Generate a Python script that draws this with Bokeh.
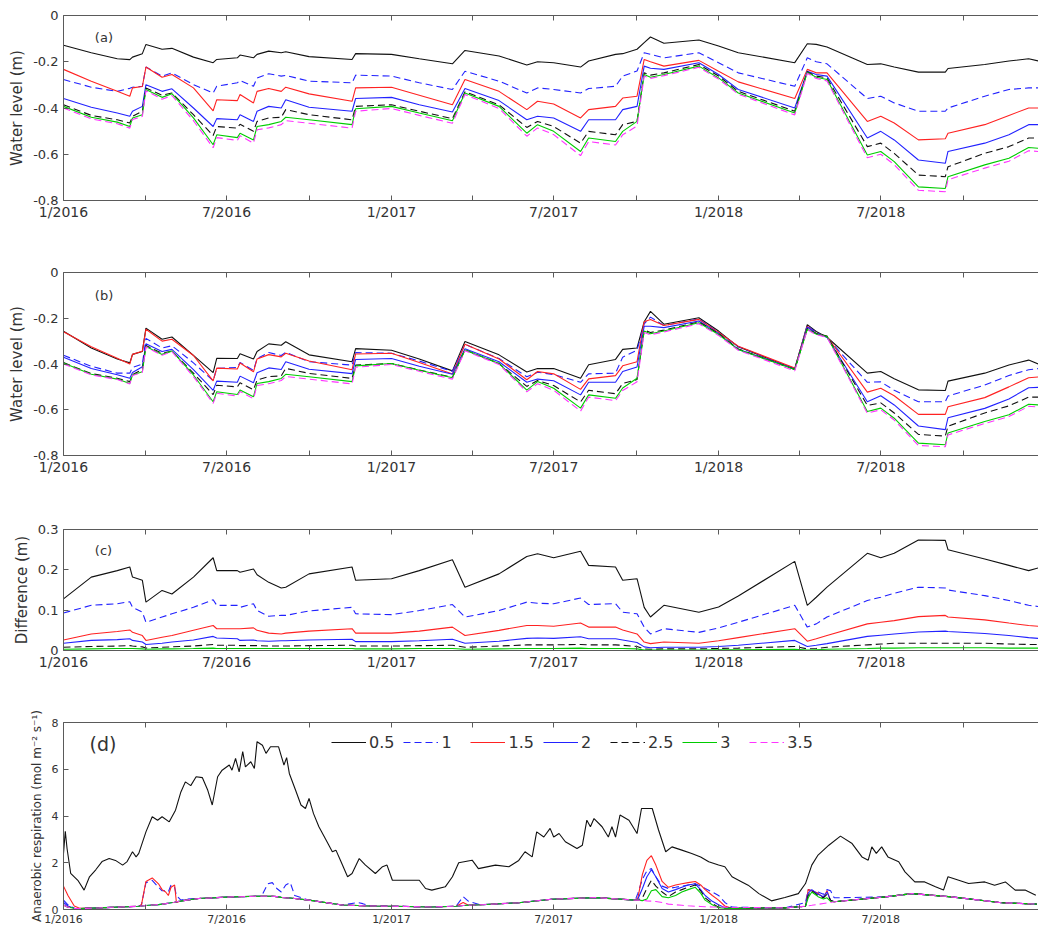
import pandas as pd
from bokeh.plotting import figure
from bokeh.layouts import column
from bokeh.models import (FixedTicker, CustomJSTickFormatter, DatetimeAxis, Range1d,
                          Label, Legend, LegendItem)
from bokeh.embed import file_html
from bokeh.resources import INLINE

# ---------------- data ----------------
SERIES = ["0.5", "1", "1.5", "2", "2.5", "3", "3.5"]
COLORS = ["#111111", "#2222ff", "#ff2222", "#2222ff", "#111111", "#00cc00", "#ff33ff"]
DASHES = ["solid", "7 4", "solid", "solid", "7 4", "solid", "7 4"]

MAJOR_TICKS = ["2016-01-01", "2016-07-01", "2017-01-01", "2017-07-01", "2018-01-01", "2018-07-01"]
MINOR_TICKS = ["2016-04-01", "2016-10-01", "2017-04-01", "2017-10-01", "2018-04-01", "2018-10-01"]

KNOT_DATES = ["2016-01-01", "2016-02-01", "2016-03-01", "2016-03-15", "2016-03-18", "2016-03-29",
              "2016-04-02", "2016-04-20", "2016-05-01", "2016-05-25", "2016-06-16", "2016-06-20",
              "2016-07-13", "2016-07-16", "2016-07-31", "2016-08-04", "2016-08-17", "2016-08-31",
              "2016-09-05", "2016-10-01", "2016-11-18", "2016-11-22", "2017-01-01", "2017-02-01",
              "2017-03-10", "2017-03-24", "2017-05-01", "2017-06-01", "2017-06-13", "2017-07-01",
              "2017-07-31", "2017-08-09", "2017-09-08", "2017-09-16", "2017-10-02", "2017-10-10",
              "2017-10-17", "2017-11-01", "2017-12-10", "2018-01-01", "2018-01-23", "2018-03-27",
              "2018-04-10", "2018-04-20", "2018-05-02", "2018-06-16", "2018-07-01", "2018-07-16",
              "2018-08-12", "2018-09-11", "2018-09-14", "2018-10-25", "2018-11-21", "2018-12-13",
              "2018-12-24"]

# (a) water level (m)
A_05 = [-0.129, -0.161, -0.187, -0.191, -0.180, -0.165, -0.125, -0.146, -0.142, -0.180,
        -0.204, -0.190, -0.183, -0.171, -0.183, -0.168, -0.154, -0.161, -0.157, -0.178,
        -0.190, -0.165, -0.168, -0.187, -0.209, -0.151, -0.175, -0.214, -0.200, -0.204,
        -0.223, -0.197, -0.168, -0.165, -0.146, -0.117, -0.093, -0.120, -0.106, -0.132,
        -0.161, -0.204, -0.122, -0.125, -0.136, -0.212, -0.209, -0.223, -0.245, -0.245,
        -0.229, -0.212, -0.197, -0.187, -0.197]
A_1 = [-0.277, -0.310, -0.328, -0.315, -0.310, -0.306, -0.223, -0.262, -0.248, -0.299,
       -0.335, -0.306, -0.291, -0.281, -0.306, -0.270, -0.252, -0.262, -0.259, -0.284,
       -0.291, -0.258, -0.262, -0.291, -0.320, -0.241, -0.284, -0.335, -0.313, -0.320,
       -0.335, -0.316, -0.306, -0.262, -0.240, -0.161, -0.168, -0.183, -0.161, -0.204,
       -0.248, -0.306, -0.183, -0.200, -0.209, -0.359, -0.349, -0.378, -0.414, -0.414,
       -0.400, -0.349, -0.320, -0.313, -0.313]
A_15 = [-0.233, -0.284, -0.328, -0.349, -0.313, -0.307, -0.223, -0.267, -0.255, -0.313,
        -0.412, -0.364, -0.368, -0.342, -0.378, -0.328, -0.316, -0.328, -0.310, -0.339,
        -0.371, -0.313, -0.310, -0.345, -0.386, -0.277, -0.328, -0.407, -0.371, -0.383,
        -0.443, -0.407, -0.393, -0.357, -0.349, -0.190, -0.200, -0.219, -0.194, -0.241,
        -0.287, -0.359, -0.233, -0.248, -0.248, -0.458, -0.436, -0.465, -0.538, -0.533,
        -0.509, -0.472, -0.432, -0.400, -0.400]
A_2 = [-0.359, -0.397, -0.422, -0.436, -0.414, -0.393, -0.299, -0.328, -0.317, -0.400,
       -0.480, -0.446, -0.451, -0.429, -0.458, -0.414, -0.393, -0.400, -0.364, -0.397,
       -0.414, -0.359, -0.354, -0.386, -0.417, -0.316, -0.368, -0.451, -0.436, -0.443,
       -0.501, -0.451, -0.451, -0.407, -0.393, -0.219, -0.228, -0.233, -0.204, -0.255,
       -0.320, -0.400, -0.241, -0.255, -0.262, -0.530, -0.501, -0.538, -0.625, -0.639,
       -0.588, -0.552, -0.516, -0.472, -0.472]
A_25 = [-0.386, -0.432, -0.451, -0.465, -0.436, -0.414, -0.313, -0.345, -0.335, -0.429,
        -0.519, -0.480, -0.487, -0.470, -0.501, -0.458, -0.443, -0.440, -0.407, -0.429,
        -0.451, -0.393, -0.386, -0.414, -0.446, -0.330, -0.386, -0.484, -0.458, -0.480,
        -0.552, -0.501, -0.516, -0.472, -0.458, -0.248, -0.258, -0.248, -0.212, -0.262,
        -0.328, -0.414, -0.243, -0.262, -0.270, -0.567, -0.552, -0.596, -0.690, -0.697,
        -0.654, -0.596, -0.567, -0.530, -0.530]
A_3 = [-0.393, -0.440, -0.461, -0.480, -0.443, -0.429, -0.320, -0.354, -0.338, -0.443,
       -0.559, -0.516, -0.528, -0.509, -0.538, -0.480, -0.472, -0.458, -0.440, -0.451,
       -0.472, -0.403, -0.393, -0.422, -0.455, -0.335, -0.393, -0.509, -0.472, -0.501,
       -0.588, -0.530, -0.545, -0.501, -0.458, -0.255, -0.267, -0.255, -0.219, -0.270,
       -0.335, -0.422, -0.246, -0.267, -0.277, -0.603, -0.588, -0.632, -0.741, -0.748,
       -0.697, -0.646, -0.617, -0.571, -0.574]
A_35 = [-0.400, -0.447, -0.468, -0.487, -0.450, -0.436, -0.325, -0.362, -0.346, -0.455,
        -0.572, -0.528, -0.540, -0.520, -0.552, -0.494, -0.486, -0.472, -0.455, -0.466,
        -0.487, -0.414, -0.402, -0.432, -0.466, -0.342, -0.402, -0.522, -0.486, -0.515,
        -0.606, -0.545, -0.560, -0.516, -0.478, -0.262, -0.272, -0.260, -0.224, -0.275,
        -0.340, -0.430, -0.250, -0.272, -0.283, -0.615, -0.600, -0.645, -0.756, -0.762,
        -0.710, -0.660, -0.630, -0.585, -0.588]

# (b) water level (m)
B_05 = [-0.257, -0.330, -0.378, -0.395, -0.358, -0.345, -0.243, -0.292, -0.282, -0.362,
        -0.438, -0.375, -0.376, -0.355, -0.378, -0.345, -0.312, -0.318, -0.303, -0.360,
        -0.390, -0.333, -0.340, -0.378, -0.430, -0.302, -0.360, -0.435, -0.420, -0.420,
        -0.462, -0.403, -0.380, -0.336, -0.330, -0.215, -0.170, -0.226, -0.198, -0.256,
        -0.325, -0.422, -0.228, -0.258, -0.283, -0.440, -0.433, -0.464, -0.513, -0.516,
        -0.475, -0.440, -0.404, -0.383, -0.400]
B_1 = [-0.362, -0.410, -0.440, -0.440, -0.415, -0.400, -0.288, -0.330, -0.320, -0.395,
       -0.473, -0.419, -0.415, -0.393, -0.428, -0.376, -0.350, -0.363, -0.349, -0.390,
       -0.405, -0.350, -0.353, -0.387, -0.432, -0.314, -0.376, -0.456, -0.436, -0.446,
       -0.480, -0.443, -0.440, -0.370, -0.340, -0.225, -0.195, -0.232, -0.203, -0.262,
       -0.324, -0.420, -0.232, -0.262, -0.285, -0.480, -0.478, -0.515, -0.565, -0.565,
       -0.540, -0.492, -0.450, -0.425, -0.420]
B_15 = [-0.259, -0.325, -0.375, -0.400, -0.358, -0.344, -0.248, -0.300, -0.292, -0.363,
        -0.474, -0.418, -0.422, -0.396, -0.434, -0.378, -0.359, -0.369, -0.353, -0.387,
        -0.425, -0.356, -0.353, -0.393, -0.444, -0.314, -0.378, -0.469, -0.433, -0.443,
        -0.511, -0.465, -0.451, -0.408, -0.390, -0.215, -0.205, -0.232, -0.205, -0.262,
        -0.322, -0.418, -0.235, -0.268, -0.280, -0.523, -0.506, -0.539, -0.620, -0.620,
        -0.587, -0.547, -0.500, -0.460, -0.457]
B_2 = [-0.370, -0.420, -0.447, -0.462, -0.437, -0.412, -0.312, -0.345, -0.336, -0.425,
       -0.515, -0.475, -0.480, -0.453, -0.482, -0.438, -0.417, -0.424, -0.390, -0.423,
       -0.442, -0.380, -0.376, -0.410, -0.445, -0.333, -0.390, -0.480, -0.466, -0.473,
       -0.535, -0.480, -0.480, -0.433, -0.413, -0.235, -0.235, -0.241, -0.212, -0.267,
       -0.336, -0.422, -0.238, -0.268, -0.283, -0.565, -0.539, -0.579, -0.671, -0.687,
       -0.635, -0.594, -0.553, -0.504, -0.502]
B_25 = [-0.394, -0.442, -0.462, -0.477, -0.447, -0.423, -0.319, -0.353, -0.344, -0.440,
        -0.534, -0.493, -0.500, -0.482, -0.513, -0.470, -0.455, -0.452, -0.419, -0.441,
        -0.463, -0.405, -0.398, -0.426, -0.458, -0.338, -0.398, -0.498, -0.472, -0.494,
        -0.566, -0.515, -0.530, -0.485, -0.468, -0.252, -0.262, -0.252, -0.216, -0.267,
        -0.334, -0.424, -0.245, -0.267, -0.278, -0.581, -0.570, -0.614, -0.708, -0.715,
        -0.672, -0.614, -0.583, -0.545, -0.545]
B_3 = [-0.396, -0.445, -0.466, -0.485, -0.448, -0.434, -0.324, -0.358, -0.343, -0.448,
       -0.565, -0.521, -0.533, -0.514, -0.543, -0.485, -0.477, -0.463, -0.445, -0.456,
       -0.477, -0.408, -0.398, -0.427, -0.460, -0.339, -0.398, -0.514, -0.477, -0.506,
       -0.593, -0.535, -0.550, -0.505, -0.462, -0.256, -0.268, -0.256, -0.220, -0.271,
       -0.337, -0.424, -0.248, -0.269, -0.280, -0.608, -0.593, -0.637, -0.746, -0.753,
       -0.702, -0.651, -0.622, -0.576, -0.579]
B_35 = [-0.400, -0.447, -0.468, -0.487, -0.450, -0.436, -0.325, -0.362, -0.346, -0.455,
        -0.572, -0.528, -0.540, -0.520, -0.552, -0.494, -0.486, -0.472, -0.455, -0.466,
        -0.487, -0.414, -0.402, -0.432, -0.466, -0.342, -0.402, -0.522, -0.486, -0.515,
        -0.606, -0.545, -0.560, -0.516, -0.478, -0.262, -0.272, -0.260, -0.224, -0.275,
        -0.340, -0.430, -0.250, -0.272, -0.283, -0.615, -0.600, -0.645, -0.756, -0.762,
        -0.710, -0.660, -0.630, -0.585, -0.588]

# (c) difference (m)
C_05 = [0.128, 0.182, 0.198, 0.207, 0.182, 0.174, 0.120, 0.149, 0.140, 0.182,
        0.230, 0.198, 0.198, 0.194, 0.202, 0.188, 0.169, 0.155, 0.157, 0.190,
        0.207, 0.174, 0.178, 0.198, 0.225, 0.157, 0.190, 0.233, 0.240, 0.230,
        0.246, 0.211, 0.207, 0.174, 0.178, 0.107, 0.083, 0.112, 0.095, 0.108,
        0.135, 0.221, 0.112, 0.132, 0.157, 0.241, 0.230, 0.241, 0.274, 0.273,
        0.250, 0.227, 0.211, 0.198, 0.205]
C_1 = [0.093, 0.112, 0.116, 0.121, 0.107, 0.095, 0.070, 0.083, 0.091, 0.107,
       0.126, 0.112, 0.112, 0.107, 0.116, 0.099, 0.085, 0.087, 0.087, 0.098,
       0.107, 0.091, 0.089, 0.099, 0.114, 0.083, 0.099, 0.120, 0.117, 0.116,
       0.130, 0.114, 0.116, 0.095, 0.091, 0.058, 0.041, 0.054, 0.045, 0.056,
       0.070, 0.112, 0.058, 0.066, 0.083, 0.124, 0.132, 0.142, 0.157, 0.155,
       0.150, 0.136, 0.124, 0.112, 0.109]
C_15 = [0.026, 0.041, 0.047, 0.051, 0.045, 0.037, 0.025, 0.033, 0.037, 0.050,
        0.062, 0.054, 0.054, 0.054, 0.056, 0.050, 0.043, 0.041, 0.043, 0.048,
        0.054, 0.043, 0.043, 0.048, 0.058, 0.037, 0.050, 0.062, 0.062, 0.060,
        0.068, 0.058, 0.058, 0.051, 0.041, 0.021, 0.017, 0.021, 0.018, 0.024,
        0.032, 0.054, 0.023, 0.029, 0.037, 0.066, 0.070, 0.074, 0.084, 0.087,
        0.083, 0.076, 0.068, 0.062, 0.060]
C_2 = [0.018, 0.025, 0.027, 0.029, 0.025, 0.021, 0.015, 0.018, 0.021, 0.026,
       0.035, 0.031, 0.029, 0.025, 0.026, 0.024, 0.023, 0.024, 0.024, 0.026,
       0.028, 0.022, 0.022, 0.024, 0.028, 0.018, 0.023, 0.030, 0.031, 0.030,
       0.034, 0.029, 0.029, 0.026, 0.020, 0.009, 0.007, 0.008, 0.008, 0.010,
       0.013, 0.025, 0.010, 0.013, 0.017, 0.035, 0.038, 0.041, 0.046, 0.048,
       0.047, 0.042, 0.037, 0.032, 0.030]
C_25 = [0.008, 0.010, 0.011, 0.012, 0.011, 0.009, 0.006, 0.008, 0.009, 0.011,
        0.015, 0.013, 0.013, 0.012, 0.012, 0.012, 0.011, 0.011, 0.011, 0.012,
        0.013, 0.011, 0.011, 0.012, 0.013, 0.008, 0.011, 0.014, 0.014, 0.014,
        0.015, 0.014, 0.014, 0.013, 0.010, 0.004, 0.003, 0.004, 0.004, 0.005,
        0.006, 0.010, 0.004, 0.005, 0.008, 0.014, 0.016, 0.018, 0.018, 0.018,
        0.018, 0.018, 0.016, 0.015, 0.015]
C_3 = [0.003, 0.004, 0.005, 0.005, 0.005, 0.004, 0.003, 0.004, 0.004, 0.005,
       0.006, 0.005, 0.005, 0.005, 0.005, 0.005, 0.005, 0.005, 0.005, 0.005,
       0.005, 0.004, 0.004, 0.005, 0.005, 0.003, 0.004, 0.005, 0.005, 0.005,
       0.006, 0.005, 0.005, 0.005, 0.004, 0.001, 0.001, 0.001, 0.001, 0.002,
       0.002, 0.003, 0.001, 0.002, 0.003, 0.005, 0.006, 0.006, 0.007, 0.007,
       0.007, 0.007, 0.006, 0.006, 0.006]
C_35 = [0.0, 0.0, 0.0, 0.0, 0.0, 0.0, 0.0, 0.0, 0.0, 0.0,
        0.0, 0.0, 0.0, 0.0, 0.0, 0.0, 0.0, 0.0, 0.0, 0.0,
        0.0, 0.0, 0.0, 0.0, 0.0, 0.0, 0.0, 0.0, 0.0, 0.0,
        0.0, 0.0, 0.0, 0.0, 0.0, 0.0, 0.0, 0.0, 0.0, 0.0,
        0.0, 0.0, 0.0, 0.0, 0.0, 0.0, 0.0, 0.0, 0.0, 0.0,
        0.0, 0.0, 0.0, 0.0, 0.0]

# (d) anaerobic respiration, in units of 1e-7 mol m-2 s-1
# day offsets from 2016-01-01
D_BLACK_DAYS = [0, 2, 4, 8, 16, 23, 29, 36, 43, 51, 58, 66, 71, 77, 81, 84, 92, 99, 105, 110,
                118, 125, 131, 136, 142, 148, 155, 161, 166, 172, 177, 185, 188, 192, 196, 200,
                203, 209, 213, 216, 222, 226, 231, 240, 246, 249, 252, 259, 265, 270, 274, 279,
                285, 293, 300, 304, 309, 317, 322, 330, 337, 348, 356, 361, 367, 397, 404, 411,
                426, 434, 441, 456, 463, 482, 497, 508, 515, 523, 528, 536, 543, 547, 553, 560,
                573, 579, 584, 588, 592, 601, 608, 612, 616, 621, 631, 640, 645, 657, 664, 672,
                679, 690, 701, 711, 720, 731, 738, 746, 757, 764, 776, 790, 805, 820, 828, 835,
                842, 854, 867, 880, 891, 898, 902, 907, 913, 920, 932, 939, 950, 961, 973, 982,
                987, 999, 1010, 1028, 1039, 1051, 1062, 1073, 1085]
D_05 = [2.40, 3.35, 2.60, 1.55, 1.25, 0.83, 1.40, 1.70, 2.05, 2.18, 2.10, 1.90, 2.05, 2.47, 2.25,
        2.40, 3.32, 3.97, 3.82, 3.97, 3.75, 4.25, 5.03, 5.46, 5.30, 5.68, 5.64, 5.10, 4.47, 5.68,
        5.96, 6.18, 5.96, 6.46, 5.89, 6.75, 6.10, 6.32, 6.03, 7.18, 7.03, 6.68, 6.96, 6.96, 6.18,
        6.50, 5.82, 5.10, 4.47, 4.32, 4.75, 4.10, 3.54, 2.97, 2.47, 2.54, 2.11, 1.40, 1.54, 2.18,
        1.90, 1.54, 1.83, 1.90, 1.25, 1.25, 0.90, 0.83, 0.97, 1.40, 2.00, 2.11, 1.75, 1.90, 1.83,
        2.10, 2.47, 2.25, 3.32, 3.10, 3.47, 3.10, 3.25, 2.90, 2.61, 2.75, 3.82, 3.54, 3.89, 3.54,
        3.10, 3.54, 3.10, 4.04, 3.82, 3.25, 4.32, 4.32, 3.40, 2.47, 2.68, 2.54, 2.40, 2.25, 2.04,
        1.90, 1.83, 1.40, 1.18, 1.04, 0.68, 0.37, 0.51, 0.68, 1.11, 1.90, 2.33, 2.75, 3.14, 2.82,
        2.25, 2.11, 2.68, 2.40, 2.68, 2.25, 2.04, 1.61, 1.18, 1.18, 0.97, 0.83, 1.40, 1.25, 1.11,
        1.18, 1.04, 1.18, 0.83, 0.83, 0.61]

D_DAYS = [0, 5, 12, 18, 40, 84, 87, 92, 99, 106, 110, 114, 117, 120, 124, 126, 131, 137, 151, 188,
          221, 228, 233, 238, 243, 248, 253, 258, 274, 311, 328, 334, 342, 367, 411, 438, 446, 452,
          465, 508, 545, 594, 638, 641, 646, 651, 656, 661, 668, 675, 683, 690, 697, 705, 711, 716,
          724, 731, 738, 746, 805, 828, 831, 835, 842, 848, 852, 856, 860, 917, 947, 991, 1047, 1086]
D_1 = [0.40, 0.20, 0.05, 0.04, 0.07, 0.14, 0.20, 1.15, 1.25, 0.95,
       0.80, 0.80, 0.75, 1.05, 0.95, 0.60, 0.40, 0.45, 0.47, 0.54,
       0.57, 1.10, 1.15, 0.90, 0.75, 1.05, 1.15, 0.60, 0.40, 0.19,
       0.30, 0.25, 0.15, 0.14, 0.11, 0.14, 0.55, 0.35, 0.20, 0.29,
       0.44, 0.51, 0.40, 0.70, 1.30, 1.65, 1.75, 1.40, 1.00, 0.90,
       0.95, 1.00, 1.05, 1.10, 1.00, 0.90, 0.75, 0.60, 0.30, 0.10,
       0.07, 0.30, 0.85, 0.80, 0.75, 0.65, 0.85, 0.80, 0.50, 0.54,
       0.68, 0.54, 0.29, 0.23]
D_15 = [1.00, 0.60, 0.15, 0.05, 0.07, 0.14, 0.20, 1.20, 1.35, 1.10,
        0.85, 0.75, 0.60, 0.95, 1.05, 0.30, 0.36, 0.40, 0.47, 0.54,
        0.57, 0.57, 0.57, 0.55, 0.52, 0.50, 0.49, 0.47, 0.40, 0.19,
        0.17, 0.16, 0.15, 0.14, 0.11, 0.14, 0.30, 0.18, 0.20, 0.29,
        0.44, 0.51, 0.40, 0.50, 1.50, 2.10, 2.30, 1.90, 1.20, 0.95,
        1.05, 1.10, 1.15, 1.20, 1.05, 0.85, 0.60, 0.40, 0.15, 0.05,
        0.07, 0.14, 0.85, 0.80, 0.70, 0.50, 0.80, 0.35, 0.33, 0.54,
        0.68, 0.54, 0.29, 0.23]
D_2 = [0.30, 0.15, 0.05, 0.04, 0.07, 0.14, 0.15, 0.17, 0.19, 0.21,
       0.23, 0.25, 0.27, 0.29, 0.31, 0.33, 0.36, 0.40, 0.47, 0.54,
       0.57, 0.57, 0.57, 0.55, 0.52, 0.50, 0.49, 0.47, 0.40, 0.19,
       0.17, 0.16, 0.15, 0.14, 0.11, 0.14, 0.17, 0.18, 0.20, 0.29,
       0.44, 0.51, 0.40, 0.45, 0.90, 1.40, 1.70, 1.40, 0.90, 0.75,
       0.85, 0.95, 1.05, 1.10, 0.85, 0.60, 0.35, 0.20, 0.08, 0.05,
       0.07, 0.14, 0.70, 0.85, 0.65, 0.55, 0.75, 0.40, 0.33, 0.54,
       0.68, 0.54, 0.29, 0.23]
D_25 = [0.19, 0.10, 0.05, 0.04, 0.07, 0.14, 0.15, 0.17, 0.19, 0.21,
        0.23, 0.25, 0.27, 0.29, 0.31, 0.33, 0.36, 0.40, 0.47, 0.54,
        0.57, 0.57, 0.57, 0.55, 0.52, 0.50, 0.49, 0.47, 0.40, 0.19,
        0.17, 0.16, 0.15, 0.14, 0.11, 0.14, 0.17, 0.18, 0.20, 0.29,
        0.44, 0.51, 0.40, 0.40, 0.50, 0.90, 1.25, 1.00, 0.75, 0.55,
        0.75, 0.85, 0.95, 1.05, 0.80, 0.50, 0.25, 0.10, 0.06, 0.05,
        0.07, 0.14, 0.60, 0.80, 0.60, 0.50, 0.65, 0.40, 0.33, 0.54,
        0.68, 0.54, 0.29, 0.23]
D_3 = [0.19, 0.10, 0.05, 0.04, 0.07, 0.14, 0.15, 0.17, 0.19, 0.21,
       0.23, 0.25, 0.27, 0.29, 0.31, 0.33, 0.36, 0.40, 0.47, 0.54,
       0.57, 0.57, 0.57, 0.55, 0.52, 0.50, 0.49, 0.47, 0.40, 0.19,
       0.17, 0.16, 0.15, 0.14, 0.11, 0.14, 0.17, 0.18, 0.20, 0.29,
       0.44, 0.51, 0.40, 0.40, 0.38, 0.45, 0.80, 0.85, 0.55, 0.50,
       0.60, 0.75, 0.85, 0.95, 0.70, 0.40, 0.20, 0.08, 0.06, 0.05,
       0.07, 0.14, 0.50, 0.75, 0.55, 0.45, 0.50, 0.35, 0.33, 0.54,
       0.68, 0.54, 0.29, 0.23]
D_35 = [0.19, 0.10, 0.05, 0.04, 0.07, 0.14, 0.15, 0.17, 0.19, 0.21,
        0.23, 0.25, 0.27, 0.29, 0.31, 0.33, 0.36, 0.40, 0.47, 0.54,
        0.57, 0.57, 0.57, 0.55, 0.52, 0.50, 0.49, 0.47, 0.40, 0.19,
        0.17, 0.16, 0.15, 0.14, 0.11, 0.14, 0.17, 0.18, 0.20, 0.29,
        0.44, 0.51, 0.40, 0.40, 0.39, 0.37, 0.36, 0.34, 0.30, 0.23,
        0.20, 0.18, 0.16, 0.14, 0.13, 0.12, 0.11, 0.11, 0.10, 0.09,
        0.07, 0.14, 0.16, 0.18, 0.22, 0.26, 0.28, 0.30, 0.33, 0.54,
        0.68, 0.54, 0.29, 0.23]

# ---------------- helpers ----------------
FONT = "DejaVu Sans"
TXT = "#333333"
AXC = "#5a5a5a"
BASE = pd.Timestamp("2016-01-01")


def ms(s):
    return pd.Timestamp(s).value // 10**6


X0 = ms("2016-01-01")
X1 = ms("2018-12-24")
MAJ = [ms(s) for s in MAJOR_TICKS]
MIN = [ms(s) for s in MINOR_TICKS]
KD = pd.to_datetime(KNOT_DATES)

XFMT = """
const d = new Date(tick);
return (d.getUTCMonth() + 1) + "/" + d.getUTCFullYear();
"""
YFMT = "return String(Number(tick.toFixed(2)));"


def make_panel(top, fh, bottom, y0, y1, yticks, ylabel, xtick_fs, ytick_fs, label_fs,
               ylab_standoff):
    p = figure(frame_width=975, frame_height=fh, x_axis_type="datetime",
               x_range=Range1d(X0, X1), y_range=Range1d(y0, y1),
               min_border_left=63, min_border_right=0, min_border_top=top,
               min_border_bottom=bottom, output_backend="svg", toolbar_location=None)
    p.outline_line_color = None
    p.xgrid.visible = False
    p.ygrid.visible = False
    p.background_fill_color = "white"
    p.border_fill_color = "white"

    xa = p.xaxis[0]
    xa.ticker = FixedTicker(ticks=MAJ, minor_ticks=MIN)
    xa.formatter = CustomJSTickFormatter(code=XFMT)
    ya = p.yaxis[0]
    ya.ticker = FixedTicker(ticks=yticks)
    ya.formatter = CustomJSTickFormatter(code=YFMT)
    ya.axis_label = ylabel
    ya.axis_label_text_font = FONT
    ya.axis_label_text_font_size = label_fs
    ya.axis_label_text_font_style = "normal"
    ya.axis_label_text_color = TXT
    ya.axis_label_standoff = ylab_standoff
    for ax, fs in ((xa, xtick_fs), (ya, ytick_fs)):
        ax.major_label_text_font = FONT
        ax.major_label_text_font_size = fs
        ax.major_label_text_color = TXT
        ax.axis_line_color = AXC
        ax.major_tick_line_color = AXC
        ax.minor_tick_line_color = AXC
        ax.major_tick_in = 5
        ax.major_tick_out = 0
        ax.minor_tick_in = 5
        ax.minor_tick_out = 0
    ya.minor_tick_line_color = None
    xa.major_label_standoff = 3
    ya.major_label_standoff = 5

    top_ax = DatetimeAxis(ticker=FixedTicker(ticks=MAJ, minor_ticks=MIN),
                          formatter=CustomJSTickFormatter(code="return '';"))
    top_ax.major_label_text_font_size = "0px"
    top_ax.major_label_standoff = 0
    top_ax.axis_line_color = AXC
    top_ax.major_tick_line_color = AXC
    top_ax.minor_tick_line_color = AXC
    top_ax.major_tick_in = 5
    top_ax.major_tick_out = 0
    top_ax.minor_tick_in = 5
    top_ax.minor_tick_out = 0
    p.add_layout(top_ax, "above")
    return p


def add_lines(p, xs_list, ys_list):
    rs = []
    for xs, ys, c, d in zip(xs_list, ys_list, COLORS, DASHES):
        r = p.line(x=xs, y=ys, line_color=c, line_width=1.1, line_dash=d)
        rs.append(r)
    return rs


def tag(p, text, date, y, size):
    p.add_layout(Label(x=ms(date), y=y, text=text, text_font=FONT, text_font_size=size,
                       text_color=TXT, text_baseline="middle", text_align="left"))


# ---------------- panels ----------------
pa = make_panel(15, 185, 40, -0.8, 0, [-0.8, -0.6, -0.4, -0.2, 0], "Water level (m)",
                "14px", "13px", "15px", 4)
add_lines(pa, [KD] * 7, [A_05, A_1, A_15, A_2, A_25, A_3, A_35])
tag(pa, "(a)", "2016-02-05", -0.095, "13px")

pb = make_panel(32, 183, 35, -0.8, 0, [-0.8, -0.6, -0.4, -0.2, 0], "Water level (m)",
                "14px", "13px", "15px", 4)
add_lines(pb, [KD] * 7, [B_05, B_1, B_15, B_2, B_25, B_3, B_35])
tag(pb, "(b)", "2016-02-05", -0.10, "13px")

pc = make_panel(39, 121, 30, 0, 0.3, [0, 0.1, 0.2, 0.3], "Difference (m)",
                "14px", "13px", "15px", 4)
add_lines(pc, [KD] * 7, [C_05, C_1, C_15, C_2, C_25, C_3, C_35])
tag(pc, "(c)", "2016-02-05", 0.248, "13px")

pd_ = make_panel(42, 187, 17, 0, 8, [0, 2, 4, 6, 8],
                 "Anaerobic respiration (mol m\u207b\u00b2 s\u207b\u00b9)", "11px", "11px",
                 "12px", 5)
dblack = BASE + pd.to_timedelta(D_BLACK_DAYS, unit="D")
dcommon = BASE + pd.to_timedelta(D_DAYS, unit="D")
rs = add_lines(pd_, [dblack] + [dcommon] * 6, [D_05, D_1, D_15, D_2, D_25, D_3, D_35])
tag(pd_, "(d)", "2016-01-30", 7.1, "19px")
pd_.add_layout(Label(x=ms("2016-01-02"), y=8.34, text="\u00d710\u207b\u2077", text_font=FONT,
                     text_font_size="10px", text_color="#555555", text_baseline="middle"))
legend = Legend(items=[LegendItem(label=s, renderers=[r]) for s, r in zip(SERIES, rs)],
                orientation="horizontal", location=(268, 157), label_text_font=FONT,
                label_text_font_size="16px", label_text_color=TXT, glyph_width=35,
                glyph_height=20, label_standoff=3, spacing=9, padding=0, margin=0,
                border_line_alpha=0, background_fill_alpha=0)
pd_.add_layout(legend)

layout = column(pa, pb, pc, pd_, spacing=0)
open("out.html", "w").write(file_html(layout, INLINE))
